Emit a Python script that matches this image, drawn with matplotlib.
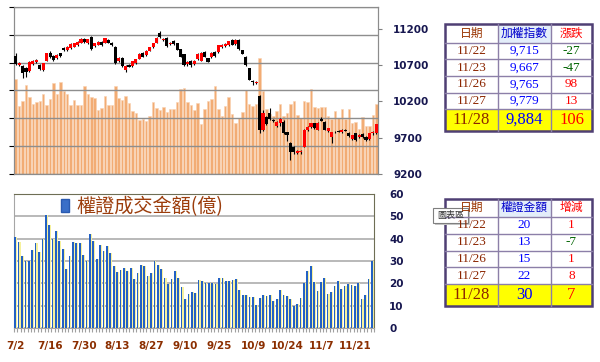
import numpy as np
import matplotlib
matplotlib.use("Agg")
import matplotlib.pyplot as plt
from matplotlib.patches import Patch, Rectangle

plt.rcParams["font.family"] = ["DejaVu Sans"]

# ----------------------------------------------------------------------------
# DATA
# ----------------------------------------------------------------------------
x_labels = ["7/2", "7/16", "7/30", "8/13", "8/27", "9/10", "9/25",
            "10/9", "10/24", "11/7", "11/21"]

# 加權指數 K線 (open / high / low / close)
opens = [10830, 10700, 10690, 10660, 10620, 10720, 10745, 10705, 10640, 10765,
         10875, 10825, 10795, 10865, 10935, 10910, 10940, 10955, 10980, 11010,
         11065, 11000, 11095, 10960, 10985, 11025, 11010, 11050, 11010, 10950,
         10760, 10800, 10640, 10700, 10690, 10730, 10790, 10870, 10840, 10900,
         10950, 11010, 11140, 11050, 11075, 10990, 11040, 11000, 10920, 10850,
         10720, 10760, 10720, 10780, 10765, 10880, 10795, 10810, 10885, 10885,
         10950, 10960, 10980, 11050, 10990, 11048, 10910, 10818, 10657, 10480,
         10455, 10270, 9806, 9981, 10036, 9950, 9861, 9900, 9921, 9775,
         9622, 9576, 9493, 9500, 9576, 9806, 9852, 9898, 9806, 9955,
         9920, 9790, 9705, 9780, 9790, 9783, 9806, 9770, 9680, 9760,
         9705, 9745, 9715, 9680, 9765, 9762]
highs = [10864, 10745, 10705, 10675, 10755, 10770, 10785, 10720, 10735, 10870,
         10890, 10840, 10850, 10875, 10945, 10960, 11000, 11005, 11030, 11070,
         11080, 11060, 11105, 11010, 11030, 11035, 11075, 11060, 11020, 10960,
         10810, 10810, 10700, 10715, 10765, 10790, 10865, 10880, 10905, 10955,
         11005, 11085, 11170, 11070, 11085, 11020, 11050, 11010, 10930, 10860,
         10760, 10770, 10770, 10870, 10880, 10890, 10805, 10880, 10895, 10985,
         10990, 11000, 11040, 11065, 11060, 11055, 10915, 10825, 10665, 10490,
         10480, 10290, 10080, 10000, 10105, 9965, 9925, 9970, 9940, 9780,
         9640, 9590, 9530, 9535, 9815, 9860, 9905, 9905, 9915, 9985,
         9925, 9840, 9780, 9790, 9800, 9815, 9815, 9780, 9740, 9770,
         9750, 9760, 9730, 9770, 9790, 9890]
lows = [10700, 10685, 10530, 10540, 10610, 10710, 10735, 10630, 10625, 10755,
        10800, 10760, 10785, 10820, 10900, 10900, 10930, 10945, 10970, 11000,
        11010, 10990, 10915, 10950, 10975, 10970, 11000, 11000, 10965, 10720,
        10740, 10680, 10610, 10670, 10680, 10720, 10780, 10815, 10830, 10890,
        10940, 11000, 11080, 11040, 10955, 10980, 10985, 10905, 10815, 10690,
        10690, 10680, 10700, 10770, 10755, 10810, 10740, 10800, 10820, 10875,
        10940, 10950, 10970, 10975, 10980, 10915, 10850, 10695, 10490, 10427,
        10440, 9760, 9790, 9870, 9940, 9915, 9855, 9860, 9750, 9659,
        9392, 9480, 9470, 9480, 9570, 9795, 9840, 9820, 9800, 9925,
        9800, 9780, 9622, 9760, 9775, 9770, 9790, 9710, 9670, 9660,
        9700, 9700, 9650, 9670, 9740, 9755]
closes = [10715, 10730, 10590, 10605, 10745, 10760, 10775, 10645, 10725, 10865,
          10810, 10770, 10840, 10830, 10910, 10955, 10995, 11000, 11025, 11065,
          11020, 11055, 10920, 11005, 11025, 10980, 11070, 11005, 10975, 10730,
          10800, 10690, 10690, 10680, 10760, 10780, 10860, 10820, 10900, 10950,
          11000, 11080, 11090, 11065, 10960, 11010, 10990, 10910, 10820, 10700,
          10750, 10710, 10760, 10860, 10870, 10820, 10750, 10875, 10830, 10980,
          10980, 10995, 11035, 10985, 11050, 10920, 10860, 10703, 10496, 10464,
          10466, 9806, 10045, 9889, 9953, 9930, 9921, 9960, 9760, 9737,
          9507, 9507, 9516, 9520, 9806, 9852, 9898, 9829, 9907, 9930,
          9806, 9829, 9774, 9774, 9783, 9810, 9797, 9723, 9732, 9670,
          9742, 9715, 9667, 9765, 9779, 9884]

# 大盤成交量 (億, estimated)
volume = [1364, 976, 1048, 1280, 1112, 1004, 1040, 1048, 1144, 992,
          1072, 1312, 1144, 1320, 1192, 1148, 988, 1064, 996, 996,
          1264, 1156, 1112, 1092, 920, 952, 1120, 996, 992, 1264,
          1092, 1068, 1120, 1020, 900, 880, 776, 796, 760, 840,
          1028, 952, 920, 964, 892, 936, 936, 1040, 1216, 1236,
          1028, 988, 920, 1016, 720, 936, 1056, 1080, 1268, 928,
          840, 984, 1104, 868, 740, 800, 896, 1200, 1004, 980,
          1000, 1672, 1192, 936, 864, 832, 904, 1008, 832, 880,
          1000, 1056, 844, 800, 1048, 1032, 1224, 964, 952, 960,
          964, 832, 792, 904, 808, 936, 784, 936, 736, 744,
          640, 820, 688, 688, 844, 1008]

# 權證成交金額 (億)
warrant = [40.7, 38.7, 32.4, 29.9, 29.9, 35.0, 38.2, 34.2, 39.7, 50.4,
           46.3, 39.9, 43.6, 39.1, 35.4, 26.6, 32.4, 38.7, 38.0, 38.0,
           32.8, 29.9, 42.2, 39.0, 31.0, 37.3, 34.3, 36.9, 33.4, 27.9,
           25.2, 26.0, 26.9, 25.7, 26.9, 21.8, 24.8, 28.4, 27.9, 23.1,
           24.8, 30.1, 28.4, 26.3, 22.5, 19.9, 21.8, 25.7, 22.5, 18.5,
           13.1, 15.4, 16.3, 15.8, 21.6, 21.2, 20.1, 20.1, 20.1, 19.7,
           22.4, 22.4, 20.9, 20.9, 21.6, 22.1, 17.2, 14.9, 14.6, 13.7,
           13.9, 10.3, 13.4, 14.9, 14.2, 14.9, 11.9, 13.1, 17.2, 14.6,
           14.3, 13.1, 10.0, 10.9, 13.6, 20.0, 25.5, 27.8, 20.7, 16.7,
           20.7, 22.4, 15.4, 16.3, 18.7, 20.9, 17.6, 18.7, 19.7, 19.3,
           19.0, 20.0, 13.0, 15.0, 22.0, 30.0]

# tables on the right
tbl_dates = ["11/22", "11/23", "11/26", "11/27", "11/28"]
tbl_index = [9715, 9667, 9765, 9779, 9884]
tbl_index_chg = [-27, -47, 98, 13, 106]
tbl_warrant = [20, 13, 15, 22, 30]
tbl_warrant_chg = [1, -7, 1, 8, 7]

# ----------------------------------------------------------------------------
# FIGURE
# ----------------------------------------------------------------------------
W, H = 600, 362
fig = plt.figure(figsize=(W / 100, H / 100), dpi=100)


def px_rect(x0, y0, x1, y1):
    return [x0 / W, 1 - y1 / H, (x1 - x0) / W, (y1 - y0) / H]


navy = "#16164F"
brown = "#8B2E00"
cjk = ["Noto Sans CJK TC", "DejaVu Sans"]
x = np.arange(len(closes))

# ---- top panel: volume bars + candlesticks
ax_vol = fig.add_axes(px_rect(14, 7, 378, 174))
ax_vol.bar(x, volume, width=0.72, color="#F2AC74", edgecolor="#F8D2B2",
           linewidth=0.4, zorder=2)
ax_vol.set_xlim(-0.5, len(x) - 0.5)
ax_vol.set_ylim(0, 2400)
ax_vol.set_yticks(np.arange(0, 2401, 400))
ax_vol.yaxis.grid(True, color="#8E8E8E", linewidth=1.0, zorder=2.5)
ax_vol.set_axisbelow(False)
ax_vol.tick_params(left=False, labelleft=False, bottom=False, labelbottom=False)
for s in ax_vol.spines.values():
    s.set_color("#8C8C8C")

ax_idx = ax_vol.twinx()
o = np.array(opens)
c = np.array(closes)
up = c >= o
body_lo = np.minimum(o, c)
body_h = np.maximum(np.abs(c - o), 12)
ax_idx.vlines(x, lows, highs, color="black", linewidth=0.8, zorder=3)
ax_idx.bar(x, body_h, bottom=body_lo, width=0.9,
           color=np.where(up, "#FF0000", "#000000"), zorder=4)
ax_idx.set_ylim(9200, 11503)
ax_idx.set_yticks([9200, 9700, 10200, 10700, 11200])
ax_idx.tick_params(axis="y", direction="out", length=3, color="#808080",
                   pad=8, labelsize=7.5, labelcolor=navy)
ax_idx.tick_params(axis="x", bottom=False, labelbottom=False)
plt.setp(ax_idx.get_yticklabels(), fontweight="bold")
for s in ax_idx.spines.values():
    s.set_color("#8C8C8C")

# ---- bottom panel: warrant turnover
ax_w = fig.add_axes(px_rect(14, 194, 374, 328))
ax_w.bar(x + 0.15, warrant, width=0.55, color="#F6F19C", zorder=2)
ax_w.bar(x - 0.15, warrant, width=0.5, color="#2361C4", zorder=3)
ax_w.set_xlim(-0.5, len(x) - 0.5)
ax_w.set_ylim(0, 60)
ax_w.set_yticks(np.arange(0, 61, 10))
ax_w.yaxis.tick_right()
ax_w.yaxis.grid(True, color="#A6A6A6", linewidth=1.1)
ax_w.set_axisbelow(True)
ax_w.tick_params(axis="y", length=0, pad=11, labelsize=7.5, labelcolor=navy)
plt.setp(ax_w.get_yticklabels(), fontweight="bold")
ax_w.set_xticks(np.arange(0, len(x), 10))
ax_w.set_xticklabels(x_labels, fontweight="bold")
ax_w.set_xticks(np.arange(-0.5, len(x), 1), minor=True)
ax_w.tick_params(axis="x", which="both", length=3, color="#A0A0A0", width=0.8)
ax_w.tick_params(axis="x", which="major", length=0, pad=9.5, labelsize=7.5,
                 labelcolor=brown)
for s in ax_w.spines.values():
    s.set_color("#A6A6A6")
ax_w.spines["top"].set_color("#6E6E55")
ax_w.spines["right"].set_color("#6E6E55")

leg = ax_w.legend(handles=[Patch(facecolor="#3A6FC8", edgecolor="#2A5AB0")],
                  labels=["權證成交金額(億)"], loc="center left",
                  bbox_to_anchor=(47 / 360, 121 / 134), frameon=False,
                  prop={"family": cjk, "size": 13.8},
                  handlelength=0.42, handleheight=0.65, handletextpad=0.4,
                  borderpad=0, borderaxespad=0)
for t in leg.get_texts():
    t.set_color("#9C3D0C")

# ---- tables (drawn in pixel coordinates on an overlay)
ov = fig.add_axes([0, 0, 1, 1])
ov.set_xlim(0, W)
ov.set_ylim(H, 0)
ov.axis("off")
ov.patch.set_visible(False)

tbl_x = [445, 498, 551, 592]


def draw_table(y_edges, header, values, changes, fmt):
    x0, x1 = tbl_x[0], tbl_x[-1]
    ov.add_patch(Rectangle((x0, y_edges[-2]), x1 - x0, y_edges[-1] - y_edges[-2],
                           facecolor="#FFFF00", edgecolor="none"))
    ov.add_patch(Rectangle((tbl_x[1], y_edges[0]), tbl_x[2] - tbl_x[1],
                           y_edges[1] - y_edges[0], facecolor="#E3EDF9",
                           edgecolor="none"))
    for yy in y_edges[1:-1]:
        ov.plot([x0, x1], [yy, yy], color="#8C7FA8", linewidth=1.0)
    for xx in tbl_x[1:-1]:
        ov.plot([xx, xx], [y_edges[0], y_edges[-1]], color="#8C7FA8", linewidth=1.0)
    ov.add_patch(Rectangle((x0, y_edges[0]), x1 - x0, y_edges[-1] - y_edges[0],
                           fill=False, edgecolor="#4F3F74", linewidth=1.8))
    cx = [(tbl_x[i] + tbl_x[i + 1]) / 2 for i in range(3)]
    hy = (y_edges[0] + y_edges[1]) / 2
    for k, (txt, col) in enumerate(zip(header, ["#993300", "#0000CC", "#FF0000"])):
        ov.text(cx[k], hy, txt, color=col, ha="center", va="center",
                fontsize=8.5, family=cjk)
    n = len(tbl_dates)
    for r in range(n):
        cy = (y_edges[r + 1] + y_edges[r + 2]) / 2
        fs = 12 if r == n - 1 else 9.5
        chg_col = "#006400" if changes[r] < 0 else "#FF0000"
        ov.text(cx[0], cy, tbl_dates[r], color="#8B2500", ha="center",
                va="center", fontsize=fs, family="Liberation Serif")
        ov.text(cx[1], cy, fmt(values[r]), color="#0000FF", ha="center",
                va="center", fontsize=fs, family="Liberation Serif")
        ov.text(cx[2], cy, str(changes[r]), color=chg_col, ha="center",
                va="center", fontsize=fs, family="Liberation Serif")


draw_table([24, 42.7, 59.3, 76, 92.7, 109.3, 130.7],
           ["日期", "加權指數", "漲跌"], tbl_index, tbl_index_chg,
           lambda v: f"{v:,}")
draw_table([199, 216.7, 234, 250.7, 267.3, 284.3, 305.7],
           ["日期", "權證金額", "增減"], tbl_warrant, tbl_warrant_chg,
           lambda v: f"{v}")

# tooltip left over from the screenshot
ov.add_patch(Rectangle((435, 210), 35, 14.5, facecolor="#C8C8C8", edgecolor="none"))
ov.add_patch(Rectangle((433, 208), 35, 14.5, facecolor="white",
                       edgecolor="#7F7F7F", linewidth=0.8))
ov.text(450.5, 215.5, "圖表區", fontsize=6.5, color="#333333", ha="center",
        va="center", family=cjk)

fig.savefig("out.png", dpi=100)
plt.close(fig)
